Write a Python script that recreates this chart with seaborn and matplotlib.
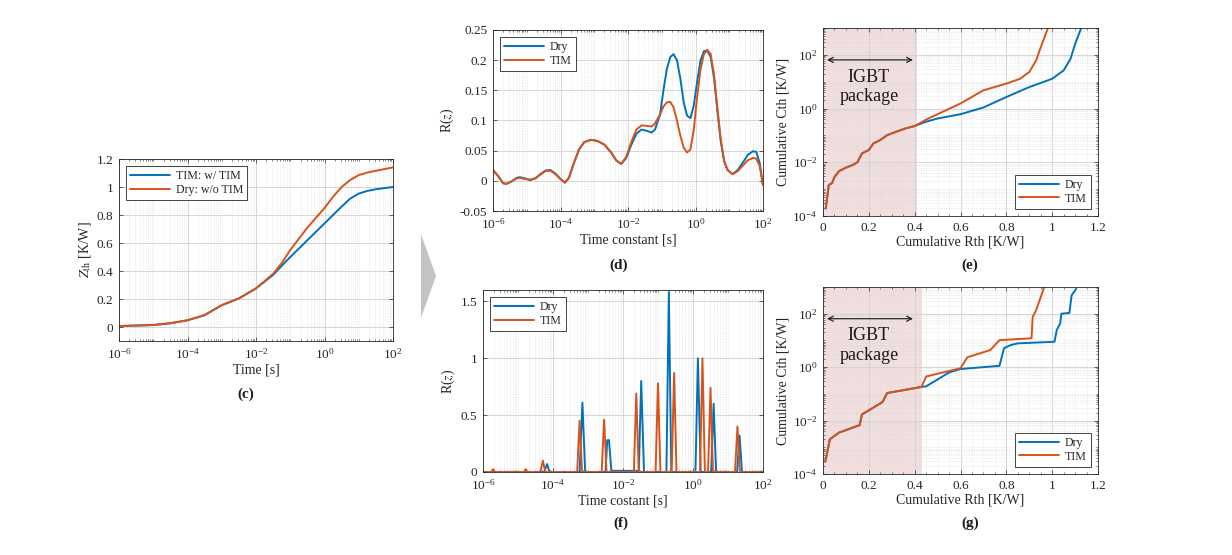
import numpy as np
import matplotlib
matplotlib.use('Agg')
import matplotlib.pyplot as plt
import seaborn as sns
from matplotlib.ticker import (FuncFormatter, FixedLocator, LogLocator,
                               NullFormatter, AutoMinorLocator)
from matplotlib.patches import Polygon

# ── Styling ───────────────────────────────────────────────────────────────
sns.set_theme(style='white')
plt.rcParams.update({
    'font.family':       ['Liberation Serif', 'DejaVu Serif'],
    'mathtext.fontset':  'stix',
    'font.size':         9.5,
    'axes.edgecolor':    '#262626',
    'axes.linewidth':    0.6,
    'axes.labelcolor':   '#262626',
    'xtick.color':       '#262626',
    'ytick.color':       '#262626',
    'xtick.direction':   'in',
    'ytick.direction':   'in',
    'xtick.bottom':      True,
    'ytick.left':        True,
    'xtick.top':         True,
    'ytick.right':       True,
    'xtick.major.size':  3,
    'ytick.major.size':  3,
    'xtick.minor.size':  1.6,
    'ytick.minor.size':  1.6,
    'xtick.major.width': 0.5,
    'ytick.major.width': 0.5,
    'xtick.minor.width': 0.4,
    'ytick.minor.width': 0.4,
    'xtick.labelsize':   9.5,
    'ytick.labelsize':   9.5,
    'xtick.major.pad':   4.5,
    'ytick.major.pad':   4,
})
BLUE   = '#0072BD'
ORANGE = '#D95319'
SHADE  = '#e9c9c9'

# ── (c) Zth vs time ───────────────────────────────────────────────────────
c_logt = [-6, -5, -4.5, -4, -3.5, -3, -2.5, -2, -1.5, -1.25, -1, -0.75, -0.5,
          -0.25, 0, 0.25, 0.5, 0.75, 1, 1.25, 1.5, 2]
c_tim = [0.007, 0.014, 0.027, 0.048, 0.085, 0.156, 0.204, 0.276, 0.372, 0.437,
         0.50, 0.56, 0.62, 0.68, 0.74, 0.80, 0.86, 0.917, 0.953, 0.972, 0.984, 1.0]
c_dry = [0.007, 0.014, 0.027, 0.048, 0.085, 0.156, 0.204, 0.276, 0.38, 0.456,
         0.55, 0.63, 0.71, 0.78, 0.85, 0.93, 1.0, 1.05, 1.085, 1.103, 1.116, 1.14]

# ── (d) smoothed time-constant spectrum ──────────────────────────────────
d_logt = [-6.0, -5.85, -5.7, -5.6, -5.45, -5.3, -5.2, -5.05, -4.9, -4.75, -4.6,
          -4.45, -4.3, -4.15, -4.0, -3.87, -3.75, -3.6, -3.45, -3.3, -3.1, -2.9,
          -2.7, -2.5, -2.35, -2.2, -2.05, -1.9, -1.75, -1.6, -1.45, -1.3, -1.2,
          -1.05, -0.95, -0.85, -0.75, -0.65, -0.55, -0.45, -0.35, -0.25, -0.15,
          -0.05, 0.05, 0.15, 0.25, 0.35, 0.45, 0.55, 0.65, 0.75, 0.85, 0.95,
          1.1, 1.25, 1.4, 1.55, 1.7, 1.8, 1.9, 2.0]
d_dry = [0.018, 0.008, -0.004, -0.005, -0.001, 0.005, 0.006, 0.004, 0.001, 0.004,
         0.011, 0.017, 0.018, 0.012, 0.003, -0.003, 0.005, 0.030, 0.052, 0.064,
         0.068, 0.066, 0.060, 0.047, 0.034, 0.028, 0.038, 0.060, 0.078, 0.085,
         0.083, 0.080, 0.085, 0.110, 0.150, 0.185, 0.205, 0.210, 0.200, 0.170,
         0.130, 0.108, 0.104, 0.125, 0.165, 0.200, 0.215, 0.216, 0.205, 0.170,
         0.115, 0.065, 0.032, 0.018, 0.011, 0.018, 0.030, 0.043, 0.049, 0.048,
         0.030, -0.007]
d_tim = [0.018, 0.008, -0.004, -0.005, -0.001, 0.004, 0.005, 0.003, 0.002, 0.004,
         0.010, 0.016, 0.017, 0.011, 0.003, -0.003, 0.005, 0.030, 0.052, 0.064,
         0.068, 0.066, 0.060, 0.047, 0.034, 0.028, 0.040, 0.065, 0.085, 0.092,
         0.091, 0.090, 0.095, 0.110, 0.123, 0.130, 0.131, 0.122, 0.100, 0.075,
         0.055, 0.047, 0.052, 0.085, 0.140, 0.185, 0.210, 0.217, 0.210, 0.175,
         0.120, 0.068, 0.033, 0.018, 0.011, 0.016, 0.025, 0.034, 0.038, 0.037,
         0.025, -0.007]

# ── (f) discrete time-constant spectrum ──────────────────────────────────
f_logt_dry = [-6.0, -5.76, -5.71, -5.66, -4.83, -4.78, -4.73, -4.25, -4.17, -4.10,
              -3.24, -3.16, -3.08, -2.50, -2.45, -2.40, -2.33, -2.30, -1.60,
              -1.55, -1.48, -1.40, -0.76, -0.69, -0.62, 0.07, 0.14, 0.22,
              0.52, 0.59, 0.66, 1.26, 1.33, 1.40, 2.0]
f_dry = [0, 0, 0.015, 0, 0, 0.015, 0, 0, 0.07, 0,
         0, 0.61, 0, 0, 0.28, 0.28, 0, 0.01, 0.01,
         0, 0.80, 0, 0, 1.58, 0, 0, 1.0, 0,
         0, 0.60, 0, 0, 0.32, 0, 0]
f_logt_tim = [-6.0, -5.76, -5.71, -5.66, -4.83, -4.78, -4.73, -4.36, -4.29, -4.22,
              -3.31, -3.24, -3.17, -2.61, -2.54, -2.47, -1.69, -1.62, -1.55,
              -1.07, -1.00, -0.93, -0.61, -0.54, -0.47, 0.20, 0.27, 0.34,
              0.43, 0.50, 0.57, 1.20, 1.27, 1.34, 2.0]
f_tim = [0, 0, 0.025, 0, 0, 0.025, 0, 0, 0.10, 0,
         0, 0.45, 0, 0, 0.46, 0, 0, 0.69, 0,
         0, 0.78, 0, 0, 0.87, 0, 0, 1.0, 0,
         0, 0.74, 0, 0, 0.40, 0, 0]

# ── (e) structure function from smoothed spectrum ───────────────────────
e_rth_dry = [0.012, 0.025, 0.04, 0.05, 0.07, 0.10, 0.13, 0.15, 0.17, 0.20, 0.22,
             0.25, 0.28, 0.32, 0.36, 0.40, 0.45, 0.50, 0.60, 0.70, 0.80, 0.90,
             1.00, 1.05, 1.08, 1.10, 1.125]
e_cth_dry = [-3.72, -2.85, -2.77, -2.55, -2.33, -2.20, -2.10, -2.00, -1.67, -1.54,
             -1.30, -1.17, -0.99, -0.86, -0.74, -0.65, -0.49, -0.37, -0.21, 0.04,
             0.43, 0.80, 1.11, 1.42, 1.85, 2.40, 2.96]
e_rth_tim = [0.012, 0.025, 0.04, 0.05, 0.07, 0.10, 0.13, 0.15, 0.17, 0.20, 0.22,
             0.25, 0.28, 0.32, 0.36, 0.40, 0.45, 0.50, 0.60, 0.70, 0.80, 0.86,
             0.90, 0.93, 0.95, 0.98]
e_cth_tim = [-3.72, -2.85, -2.77, -2.55, -2.33, -2.20, -2.10, -2.00, -1.67, -1.54,
             -1.30, -1.17, -0.99, -0.86, -0.74, -0.65, -0.41, -0.21, 0.19, 0.68,
             0.93, 1.11, 1.36, 1.79, 2.28, 2.96]

# ── (g) structure function from discrete spectrum ───────────────────────
g_rth_dry = [0.01, 0.03, 0.07, 0.16, 0.17, 0.25, 0.26, 0.28, 0.43, 0.45, 0.55,
             0.60, 0.77, 0.79, 0.82, 0.85, 1.01, 1.02, 1.035, 1.04, 1.075, 1.085,
             1.105]
g_cth_dry = [-3.54, -2.70, -2.45, -2.17, -1.77, -1.36, -1.30, -0.97, -0.74, -0.72,
             -0.20, -0.07, 0.05, 0.71, 0.83, 0.89, 0.95, 1.39, 1.63, 2.00, 2.03,
             2.69, 2.93]
g_rth_tim = [0.01, 0.03, 0.07, 0.16, 0.17, 0.25, 0.26, 0.28, 0.43, 0.45, 0.60,
             0.63, 0.73, 0.77, 0.91, 0.915, 0.93, 0.965]
g_cth_tim = [-3.54, -2.70, -2.45, -2.17, -1.77, -1.36, -1.30, -0.97, -0.74, -0.35,
             -0.04, 0.37, 0.64, 1.01, 1.08, 1.88, 2.13, 2.99]

W, H = 1232, 555


def box(l, t, r, b):
    return [l / W, (H - b) / H, (r - l) / W, (b - t) / H]


def pct(v, _):
    return f'{v:g}'


def style_logx(ax):
    ax.set_xscale('log')
    ax.set_xlim(1e-6, 1e2)
    ax.xaxis.set_major_locator(FixedLocator([1e-6, 1e-4, 1e-2, 1e0, 1e2]))
    ax.xaxis.set_minor_locator(LogLocator(base=10, subs=np.arange(1, 10), numticks=40))
    ax.xaxis.set_minor_formatter(NullFormatter())


def style_logy(ax):
    ax.set_yscale('log')
    ax.set_ylim(1e-4, 1e3)
    ax.yaxis.set_major_locator(FixedLocator([1e-4, 1e-2, 1e0, 1e2]))
    ax.yaxis.set_minor_locator(LogLocator(base=10, subs=np.arange(1, 10), numticks=40))
    ax.yaxis.set_minor_formatter(NullFormatter())


def grids(ax):
    ax.grid(True, which='major', color='#d0d0d0', lw=0.6, ls='-')
    ax.grid(True, which='minor', color='#d8d8d8', lw=0.45, ls=':')


def leg(ax, loc):
    lg = ax.legend(loc=loc, fontsize=8.6, handlelength=3.3, fancybox=False,
                   framealpha=1, edgecolor='#262626', borderpad=0.35,
                   labelspacing=0.15, handletextpad=0.5, borderaxespad=0.6)
    lg.get_frame().set_linewidth(0.6)


fig = plt.figure(figsize=(W / 100, H / 100), dpi=100)
fig.patch.set_facecolor('white')
LW = 1.4
LAB = 10

# ── Panel (c) ────────────────────────────────────────────────────────────
ax_c = fig.add_axes(box(119, 159, 393, 341))
sns.lineplot(x=np.power(10.0, c_logt), y=c_tim, ax=ax_c, color=BLUE, lw=LW,
             label='TIM: w/ TIM', estimator=None, sort=False)
sns.lineplot(x=np.power(10.0, c_logt), y=c_dry, ax=ax_c, color=ORANGE, lw=LW,
             label='Dry: w/o TIM', estimator=None, sort=False)
style_logx(ax_c)
ax_c.set_ylim(-0.1, 1.2)
ax_c.set_yticks([0, 0.2, 0.4, 0.6, 0.8, 1, 1.2])
ax_c.yaxis.set_major_formatter(FuncFormatter(pct))
ax_c.set_xlabel('Time [s]', fontsize=LAB, labelpad=1)
ax_c.set_ylabel(r'$Z_{\mathrm{th}}$ [K/W]', fontsize=LAB, labelpad=3)
grids(ax_c)
leg(ax_c, 'upper left')

# ── Panel (d) ────────────────────────────────────────────────────────────
ax_d = fig.add_axes(box(493, 30, 763, 211))
sns.lineplot(x=np.power(10.0, d_logt), y=d_dry, ax=ax_d, color=BLUE, lw=LW,
             label='Dry', estimator=None, sort=False)
sns.lineplot(x=np.power(10.0, d_logt), y=d_tim, ax=ax_d, color=ORANGE, lw=LW,
             label='TIM', estimator=None, sort=False)
style_logx(ax_d)
ax_d.set_ylim(-0.05, 0.25)
ax_d.set_yticks([-0.05, 0, 0.05, 0.1, 0.15, 0.2, 0.25])
ax_d.yaxis.set_major_formatter(FuncFormatter(pct))
ax_d.set_xlabel('Time constant [s]', fontsize=LAB, labelpad=1)
ax_d.set_ylabel(r'R($z$)', fontsize=LAB, labelpad=3)
grids(ax_d)
leg(ax_d, 'upper left')

# ── Panel (f) ────────────────────────────────────────────────────────────
ax_f = fig.add_axes(box(483, 290, 763, 472))
sns.lineplot(x=np.power(10.0, f_logt_dry), y=f_dry, ax=ax_f, color=BLUE, lw=LW,
             label='Dry', estimator=None, sort=False)
sns.lineplot(x=np.power(10.0, f_logt_tim), y=f_tim, ax=ax_f, color=ORANGE, lw=LW,
             label='TIM', estimator=None, sort=False)
style_logx(ax_f)
ax_f.set_ylim(0, 1.6)
ax_f.set_yticks([0, 0.5, 1, 1.5])
ax_f.yaxis.set_major_formatter(FuncFormatter(pct))
ax_f.set_xlabel('Time costant [s]', fontsize=LAB, labelpad=1)
ax_f.set_ylabel(r'R($z$)', fontsize=LAB, labelpad=3)
grids(ax_f)
leg(ax_f, 'upper left')

# ── Panels (e) and (g) ───────────────────────────────────────────────────
for pos, rd, cd, rt, ct, span in [
        (box(823, 28, 1098, 216), e_rth_dry, e_cth_dry, e_rth_tim, e_cth_tim, 0.41),
        (box(823, 287, 1098, 474), g_rth_dry, g_cth_dry, g_rth_tim, g_cth_tim, 0.433)]:
    ax = fig.add_axes(pos)
    ax.axvspan(0, span, color=SHADE, alpha=0.6, lw=0, zorder=0.3)
    sns.lineplot(x=rd, y=np.power(10.0, cd), ax=ax, color=BLUE, lw=LW,
                 label='Dry', estimator=None, sort=False)
    sns.lineplot(x=rt, y=np.power(10.0, ct), ax=ax, color=ORANGE, lw=LW,
                 label='TIM', estimator=None, sort=False)
    style_logy(ax)
    ax.set_xlim(0, 1.2)
    ax.set_xticks([0, 0.2, 0.4, 0.6, 0.8, 1, 1.2])
    ax.xaxis.set_minor_locator(AutoMinorLocator(4))
    ax.xaxis.set_major_formatter(FuncFormatter(pct))
    ax.set_xlabel('Cumulative Rth [K/W]', fontsize=LAB, labelpad=1)
    ax.set_ylabel('Cumulative Cth [K/W]', fontsize=LAB, labelpad=2)
    grids(ax)
    ax.annotate('', xy=(0.005, 65), xytext=(0.405, 65),
                arrowprops=dict(arrowstyle='<->', color='#262626', lw=0.9,
                                mutation_scale=9))
    ax.text(0.2, 10 ** 0.8, 'IGBT\npackage', ha='center', va='center',
            fontsize=13, color='#1a1a1a', linespacing=1.2)
    leg(ax, 'lower right')

# ── Sub-figure labels ────────────────────────────────────────────────────
for x, y, s in [(246, 394, '(c)'), (619, 265, '(d)'), (621, 523, '(f)'),
                (970, 265, '(e)'), (970, 523, '(g)')]:
    fig.text(x / W, 1 - y / H, s, ha='center', va='center',
             fontsize=11, fontweight='bold', color='#1a1a1a')

# ── Grey arrow between panels ────────────────────────────────────────────
fig.patches.append(Polygon([[421 / W, 1 - 234 / H], [436 / W, 1 - 276 / H],
                            [421 / W, 1 - 318 / H]], closed=True,
                           transform=fig.transFigure, facecolor='#c4c4c4',
                           edgecolor='none'))

plt.savefig('out.png', dpi=100)
plt.close()
